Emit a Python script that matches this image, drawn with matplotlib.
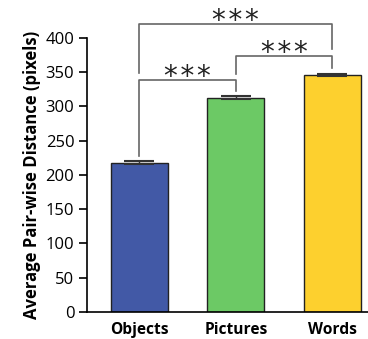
import matplotlib
matplotlib.use("Agg")
import matplotlib.pyplot as plt

categories = ["Objects", "Pictures", "Words"]
means = [218, 313, 346]
errors = [2, 2.5, 2]
colors = ["#4259A6", "#6CC965", "#FDD02E"]
y_ticks = [0, 50, 100, 150, 200, 250, 300, 350, 400]

# significance brackets: (left bar, right bar, bracket height, left leg end, right leg end, label)
stars = "*\u200a*\u200a*"
brackets = [
    (0, 1, 339, 228, 323, stars),
    (1, 2, 373, 348, 356, stars),
    (0, 2, 420, 349, 384, stars),
]

plt.rcParams["font.family"] = ["Open Sans", "DejaVu Sans"]

fig = plt.figure(figsize=(3.68, 3.39), dpi=100)
ax = fig.add_axes([0.236, 0.080, 0.764, 0.808])

x = range(len(categories))
ax.bar(
    x, means, width=0.59, color=colors,
    edgecolor="#222222", linewidth=1.0, zorder=2
)
ax.errorbar(
    x, means, yerr=errors, fmt="none", ecolor="#333333",
    elinewidth=1.0, capsize=11, capthick=1.5, zorder=3
)

for i, j, h, yl, yr, label in brackets:
    ax.plot(
        [i, i, j, j], [yl, h, h, yr],
        color="#666666", linewidth=1.2, clip_on=False
    )
    ax.annotate(
        label, xy=((i + j) / 2, h), xytext=(0, -3.5),
        textcoords="offset points", ha="center", va="baseline",
        fontsize=20, color="#222222", family="DejaVu Sans",
        annotation_clip=False
    )

ax.set_xlim(-0.545, 2.37)
ax.set_ylim(0, 400)
ax.set_yticks(y_ticks)
ax.set_xticks(list(x))
ax.set_xticklabels(categories, fontweight="bold", fontsize=11.2)
ax.tick_params(axis="y", labelsize=12, length=6, width=1.2, pad=3)
ax.tick_params(axis="x", length=0, pad=7)

ax.spines["top"].set_visible(False)
ax.spines["right"].set_visible(False)
ax.spines["left"].set_linewidth(1.2)
ax.spines["bottom"].set_linewidth(1.2)

ax.set_ylabel(
    "Average Pair-wise Distance (pixels)",
    fontweight="bold", fontsize=12, labelpad=3
)

fig.savefig("out.png", dpi=100)
plt.close(fig)
